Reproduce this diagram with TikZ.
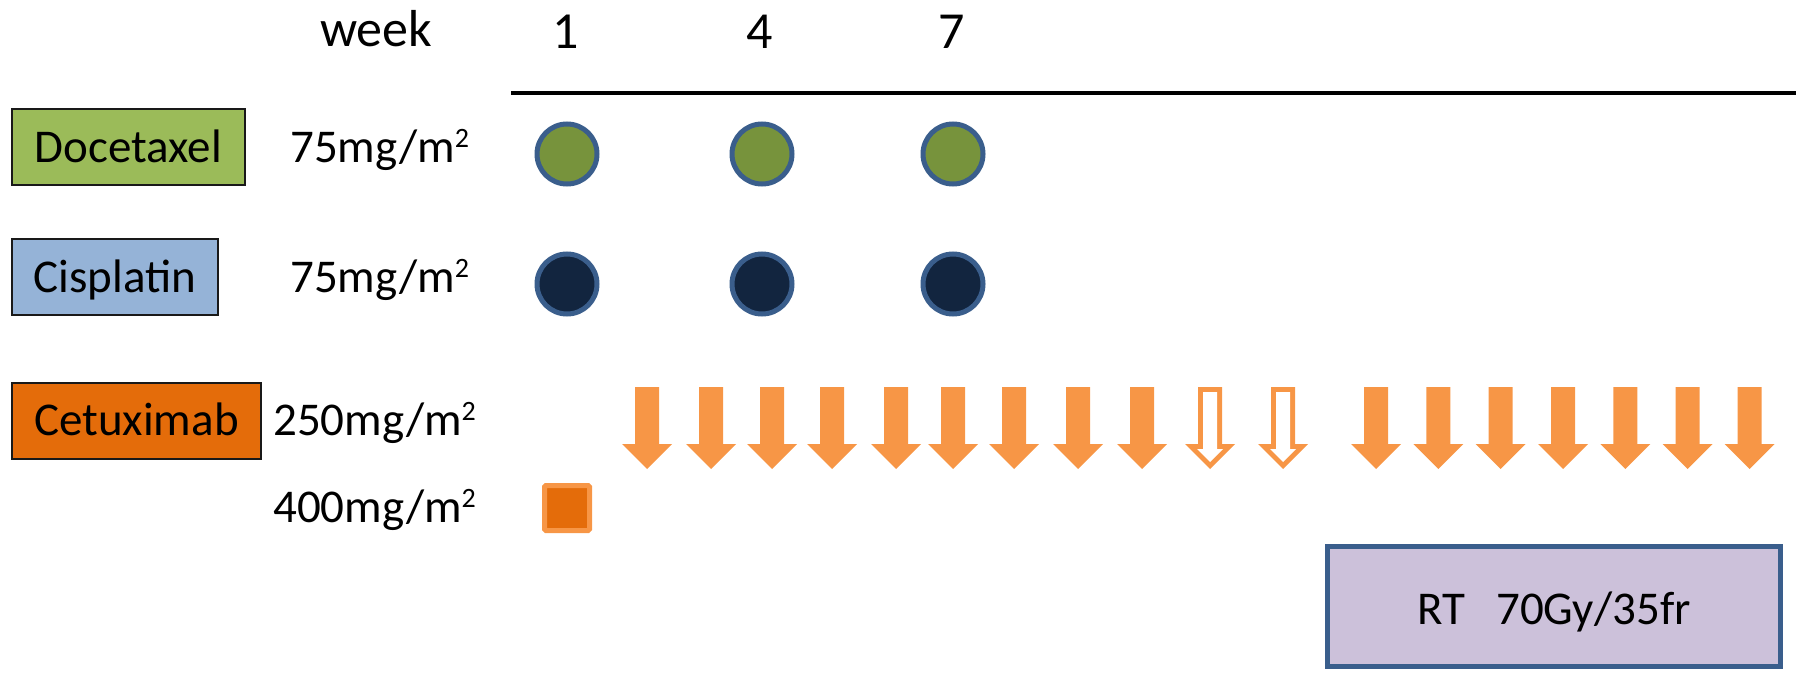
\documentclass[tikz,border=0pt]{standalone}
\usepackage{fontspec}
\setmainfont{Carlito}
\definecolor{docgreen}{HTML}{9BBB59}
\definecolor{cisblue}{HTML}{95B3D7}
\definecolor{cetorange}{HTML}{E46C0A}
\definecolor{doseorange}{HTML}{F79646}
\definecolor{ringblue}{HTML}{3A5E8C}
\definecolor{dotgreen}{HTML}{77933C}
\definecolor{dotnavy}{HTML}{12253F}
\definecolor{rtlilac}{HTML}{CCC1DA}
\newcommand{\sqtwo}{\raisebox{15pt}{\fontsize{28}{28}\selectfont 2}}
\tikzset{
  x=1pt, y=-1pt,
  drugbox/.style={draw=black!90, line width=2pt, inner sep=0pt,
    minimum height=76pt, text height=30pt, text depth=0pt,
    font=\fontsize{47}{50}\selectfont},
  dosetext/.style={anchor=base west, inner sep=0pt, font=\fontsize{47}{50}\selectfont},
  headtext/.style={anchor=base, inner sep=0pt, font=\fontsize{52}{56}\selectfont},
  dosedot/.style={circle, draw=ringblue, line width=5pt, minimum size=60pt, inner sep=0pt},
  weekly/.style={fill=doseorange},
}
\begin{document}
\begin{tikzpicture}
\useasboundingbox (0,0) rectangle (1800,680);

% header row
\node[anchor=base west, inner sep=0pt, font=\fontsize{52}{56}\selectfont] (wk) at (320,46) {week};
\node[headtext] (w1) at (566,48) {1};
\node[headtext] (w4) at (760,48) {4};
\node[headtext] (w7) at (952,48) {7};
\coordinate (axisL) at (511,92.5);
\coordinate (axisR) at (1796,92.5);
\draw[line width=4pt] (axisL) -- (axisR);

% drug labels
\node[drugbox, fill=docgreen, minimum width=233pt] (doc) at (128.5,147) {Docetaxel};
\node[drugbox, fill=cisblue, minimum width=206pt] (cis) at (115,277) {Cisplatin};
\node[drugbox, fill=cetorange, minimum width=249pt] (cet) at (136.5,420.5) {Cetuximab};

% doses
\node[dosetext] (docdose) at (290,162) {75mg/m\sqtwo};
\node[dosetext] (cisdose) at (290,292) {75mg/m\sqtwo};
\node[dosetext] (cetdose) at (273,435) {250mg/m\sqtwo};
\node[dosetext] (loaddose) at (273,522) {400mg/m\sqtwo};

% three-weekly docetaxel and cisplatin
\foreach \x/\n in {567/1,762/4,953/7}{
  \node[dosedot, fill=dotgreen] (d\n) at (\x,154) {};
  \node[dosedot, fill=dotnavy] (c\n) at (\x,284) {};
}

% cetuximab loading dose
\node[draw=doseorange, fill=cetorange, line width=5pt, minimum size=45pt,
      inner sep=0pt, rounded corners=1.5pt] (load) at (567,508) {};

% weekly cetuximab
\foreach \x in {647,711,772,832,896,953,1014,1078,1142,1376,1438.3,1500.7,1563,1625.3,1687.7,1749.7}{
  \fill[weekly] ({\x-12},387) -- ({\x+12},387) -- ({\x+12},444) -- ({\x+25},444)
    -- (\x,469) -- ({\x-25},444) -- ({\x-12},444) -- cycle;
}
% skipped weeks
\foreach \x in {1210,1283}{
  \fill[weekly] ({\x-12},387) -- ({\x+12},387) -- ({\x+12},444) -- ({\x+25},444)
    -- (\x,469) -- ({\x-25},444) -- ({\x-12},444) -- cycle;
  \fill[white] ({\x-7},392) -- ({\x+7},392) -- ({\x+7},449) -- ({\x+13},449)
    -- (\x,462) -- ({\x-13},449) -- ({\x-7},449) -- cycle;
}

% radiotherapy
\node[draw=ringblue, fill=rtlilac, line width=5pt, minimum width=453pt, minimum height=120pt,
      inner sep=0pt, text height=35pt, text depth=0pt, font=\fontsize{47}{50}\selectfont]
      (rt) at (1554,606.5) {RT\hspace{31pt}70Gy/35fr};
\end{tikzpicture}
\end{document}
